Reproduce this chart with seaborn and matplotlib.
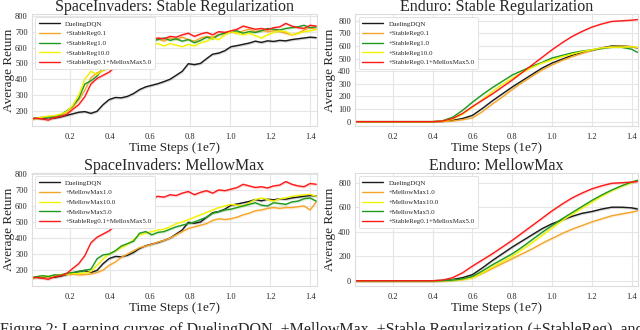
import numpy as np
import pandas as pd
import seaborn as sns
import matplotlib.pyplot as plt

# time axis (1e7 steps)
x_si = np.linspace(0.0, 1.43, 48)
x_en = np.append(np.arange(0.0, 1.41, 0.05), 1.43)

# SpaceInvaders
si_dqn = [150, 155, 152, 158, 155, 162, 172, 182,
          192, 196, 185, 198, 240, 272, 285, 283,
          292, 310, 335, 352, 362, 372, 385, 400,
          425, 450, 498, 492, 500, 530, 558, 565,
          580, 605, 612, 620, 628, 640, 632, 642,
          638, 645, 642, 650, 655, 660, 665, 662]
si_sr_mm = [150, 155, 150, 142, 158, 165, 178, 210,
            240, 290, 370, 405, 425, 445, 480, 520,
            560, 610, 600, 615, 648, 660, 655, 670,
            665, 680, 690, 670, 685, 695, 680, 700,
            695, 705, 715, 735, 725, 715, 720, 712,
            725, 730, 752, 735, 725, 720, 740, 735]
si_sr01 = [150, 152, 158, 160, 170, 172, 190, 225,
           270, 330, 410, 440, 455, 470, 500, 545,
           600, 620, 610, 625, 650, 655, 640, 660,
           650, 665, 650, 640, 660, 670, 665, 680,
           690, 700, 690, 705, 715, 700, 710, 700,
           705, 700, 690, 680, 690, 710, 725, 715]
si_sr1 = [150, 155, 160, 162, 165, 175, 200, 230,
          280, 370, 390, 420, 470, 490, 540, 600,
          650, 625, 610, 620, 640, 650, 660, 645,
          655, 640, 650, 630, 645, 665, 655, 680,
          690, 700, 705, 690, 700, 695, 705, 720,
          715, 710, 720, 725, 730, 740, 725, 730]
si_sr10 = [150, 155, 160, 168, 170, 180, 195, 235,
           300, 400, 450, 430, 460, 480, 520, 560,
           610, 590, 600, 610, 620, 625, 610, 625,
           615, 605, 620, 610, 630, 640, 660, 650,
           680, 700, 690, 680, 690, 675, 660, 680,
           695, 705, 700, 680, 690, 700, 705, 715]
si_mm1 = [150, 152, 158, 155, 165, 170, 172, 175,
          170, 172, 175, 185, 200, 230, 250, 280,
          300, 320, 340, 350, 360, 375, 385, 400,
          420, 440, 460, 470, 480, 490, 510, 520,
          515, 520, 530, 545, 555, 570, 575, 585,
          590, 585, 590, 590, 595, 600, 575, 625]
si_mm10 = [150, 155, 162, 160, 165, 172, 175, 180,
           178, 182, 190, 230, 270, 300, 320, 340,
           360, 390, 420, 430, 440, 450, 455, 470,
           490, 500, 515, 530, 545, 560, 575, 590,
           600, 610, 605, 600, 620, 640, 650, 640,
           630, 645, 650, 660, 665, 670, 672, 660]
si_mm5 = [150, 158, 165, 160, 170, 168, 180, 185,
          190, 200, 205, 270, 295, 300, 320, 350,
          365, 380, 430, 440, 420, 435, 440, 455,
          470, 480, 490, 500, 515, 530, 555, 565,
          575, 580, 590, 600, 610, 620, 605, 600,
          620, 615, 610, 625, 630, 645, 650, 630]

# Enduro (flat at 0 up to 0.40, then 0.45 ... 1.43)
zeros = [0] * 9
en_dqn = zeros + [2, 10, 25, 50, 105, 165, 220, 275, 325, 375, 425,
                  465, 495, 525, 550, 565, 585, 600, 600, 595, 585]
en_sr01 = zeros + [1, 5, 15, 30, 80, 140, 195, 255, 310, 360, 410,
                   450, 485, 515, 540, 565, 585, 595, 600, 595, 585]
en_sr1 = zeros + [8, 35, 90, 155, 215, 270, 320, 370, 405, 440, 470,
                  505, 525, 545, 560, 570, 580, 590, 590, 575, 550]
en_sr10 = zeros + [4, 20, 60, 115, 175, 240, 295, 345, 390, 430, 465,
                   490, 515, 535, 555, 570, 585, 590, 590, 595, 590]
en_sr_mm = zeros + [5, 25, 65, 120, 170, 220, 275, 330, 390, 450, 510,
                    570, 625, 675, 715, 750, 775, 795, 800, 805, 810]
en_mm1 = zeros + [0, 3, 10, 25, 60, 100, 140, 180, 220, 260, 305,
                  345, 385, 420, 450, 480, 505, 530, 545, 560, 570]
en_mm10 = zeros + [0, 3, 10, 25, 65, 110, 155, 200, 255, 310, 370,
                   430, 490, 540, 590, 640, 690, 735, 770, 800, 820]
en_mm5 = zeros + [1, 5, 15, 35, 80, 130, 175, 220, 275, 335, 395,
                  450, 505, 555, 605, 655, 700, 740, 775, 805, 820]

BLACK, ORANGE, GREEN, YELLOW, RED = '#1a1a1a', '#f5a52a', '#1f9a1f', '#f2f200', '#ff1a1a'

panels = [
    ("SpaceInvaders: Stable Regularization", x_si, [
        ("DuelingDQN", si_dqn, BLACK), ("+StableReg0.1", si_sr01, ORANGE),
        ("+StableReg1.0", si_sr1, GREEN), ("+StableReg10.0", si_sr10, YELLOW),
        ("+StableReg0.1+MelloxMax5.0", si_sr_mm, RED)],
     (105, 812), [200, 300, 400, 500, 600, 700, 800], 8),
    ("Enduro: Stable Regularization", x_en, [
        ("DuelingDQN", en_dqn, BLACK), ("+StableReg0.1", en_sr01, ORANGE),
        ("+StableReg1.0", en_sr1, GREEN), ("+StableReg10.0", en_sr10, YELLOW),
        ("+StableReg0.1+MelloxMax5.0", en_sr_mm, RED)],
     (-35, 855), [0, 100, 200, 300, 400, 500, 600, 700, 800], 6),
    ("SpaceInvaders: MellowMax", x_si, [
        ("DuelingDQN", si_dqn, BLACK), ("+MellowMax1.0", si_mm1, ORANGE),
        ("+MellowMax10.0", si_mm10, YELLOW), ("+MellowMax5.0", si_mm5, GREEN),
        ("+StableReg0.1+MelloxMax5.0", si_sr_mm, RED)],
     (100, 806), [200, 300, 400, 500, 600, 700, 800], 8),
    ("Enduro: MellowMax", x_en, [
        ("DuelingDQN", en_dqn, BLACK), ("+MellowMax1.0", en_mm1, ORANGE),
        ("+MellowMax10.0", en_mm10, YELLOW), ("+MellowMax5.0", en_mm5, GREEN),
        ("+StableReg0.1+MelloxMax5.0", en_sr_mm, RED)],
     (-44, 880), [0, 200, 400, 600, 800], 10),
]

sns.set_theme(style="whitegrid")
plt.rcParams['font.family'] = ['Liberation Serif', 'DejaVu Serif']
plt.rcParams['grid.color'] = '#e6e6e6'
plt.rcParams['axes.edgecolor'] = '#dddddd'

fig = plt.figure(figsize=(6.4, 3.3), dpi=100)
boxes = [(0.050, 0.618, 0.445, 0.340), (0.555, 0.618, 0.442, 0.340),
         (0.050, 0.133, 0.445, 0.343), (0.555, 0.133, 0.442, 0.343)]
ylabel_x = [-0.058, -0.068, -0.058, -0.068]

for box, lx, (title, xs, series, ylim, yticks, band) in zip(boxes, ylabel_x, panels):
    ax = fig.add_axes(box)
    for label, ys, color in series:
        df = pd.DataFrame({"t": xs, "r": ys})
        sns.lineplot(data=df, x="t", y="r", ax=ax, color=color, lw=1.0, label=label)
        ax.fill_between(xs, np.array(ys) - band, np.array(ys) + band,
                        color=color, alpha=0.18, lw=0)
    ax.set_xlim(0.01, 1.433)
    ax.set_ylim(*ylim)
    ax.set_xticks([0.2, 0.4, 0.6, 0.8, 1.0, 1.2, 1.4])
    ax.set_yticks(yticks)
    ax.tick_params(axis='x', labelsize=6, length=0, pad=5)
    ax.tick_params(axis='y', labelsize=6, length=0, pad=3)
    ax.set_title(title, fontsize=11.5, pad=2)
    ax.set_xlabel("Time Steps (1e7)", fontsize=9.5, labelpad=1)
    ax.set_ylabel("Average Return", fontsize=9.5)
    ax.yaxis.set_label_coords(lx, 0.5)
    ax.grid(True, lw=0.8)
    leg = ax.legend(loc="upper left", fontsize=5, frameon=True, handlelength=3,
                    borderpad=0.5, labelspacing=0.55, framealpha=1)
    leg.get_frame().set_edgecolor('#dddddd')
    leg.get_frame().set_linewidth(0.6)
    for s in ax.spines.values():
        s.set_linewidth(0.8)

fig.text(0.0, 1 - 322 / 330,
         "Figure 2: Learning curves of DuelingDQN, +MellowMax, +Stable Regularization (+StableReg), and",
         fontsize=11.5, va='top', ha='left')

fig.savefig("out.png", dpi=100)
